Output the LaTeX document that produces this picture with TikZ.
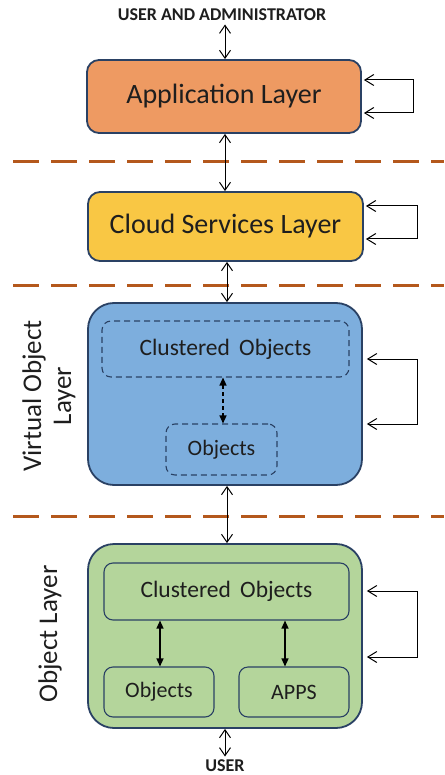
\documentclass[tikz,border=0pt]{standalone}
\usepackage{fontspec}
\setmainfont{Carlito}
\usetikzlibrary{arrows.meta}
\definecolor{orangeL}{HTML}{EE9A62}
\definecolor{yellowL}{HTML}{F9C744}
\definecolor{blueL}{HTML}{7DAEDD}
\definecolor{greenL}{HTML}{B4D59B}
\definecolor{navy}{HTML}{2A4164}
\definecolor{brownD}{HTML}{B4581C}
\definecolor{txt}{HTML}{1E1E1E}
\tikzset{
  layer/.style={draw=navy, line width=1.8pt, rounded corners=12pt, inner sep=0pt},
  biglayer/.style={draw=navy, line width=1.8pt, rounded corners=26pt, inner sep=0pt},
  inbox/.style={draw=navy, line width=1.1pt, rounded corners=9pt, inner sep=0pt},
  sep/.style={draw=brownD, line width=3pt, dash pattern=on 26pt off 12pt},
  openarr/.style={line width=1pt, {Straight Barb[length=8pt,width=11pt]}-{Straight Barb[length=8pt,width=11pt]}},
  loopline/.style={line width=1pt, {Straight Barb[length=9pt,width=11pt]}-{Straight Barb[length=9pt,width=11pt]}},
  solidarr/.style={line width=1.3pt, {Triangle[length=8pt,width=7pt]}-{Triangle[length=8pt,width=7pt]}},
  bigtxt/.style={text=txt, font=\fontsize{28}{32}\selectfont},
  midtxt/.style={text=txt, font=\fontsize{23.5}{27}\selectfont},
  smalltxt/.style={text=txt, font=\fontsize{22}{26}\selectfont},
  sidetxt/.style={text=txt, font=\fontsize{27}{30}\selectfont, align=center, rotate=90},
  captxt/.style={text=txt, font=\bfseries\fontsize{18}{21}\selectfont}
}
\begin{document}
\begin{tikzpicture}[x=1pt,y=-1pt]
\useasboundingbox (0,0) rectangle (444,775);
% texts
\node[captxt] (top) at (222,15) {USER AND ADMINISTRATOR};
\node[captxt] (bot) at (225,766) {USER};
% layers
\node[layer, fill=orangeL, minimum width=274pt, minimum height=73pt] (app) at (224,96.5) {};
\node[bigtxt] at (app.center) {Application Layer};
\node[layer, fill=yellowL, minimum width=275pt, minimum height=69pt] (cloud) at (225.5,226.5) {};
\node[bigtxt] at (cloud.center) {Cloud Services Layer};
\node[biglayer, fill=blueL, minimum width=274pt, minimum height=182pt] (virt) at (225,394) {};
\node[biglayer, fill=greenL, minimum width=274pt, minimum height=184pt] (obj) at (225,636) {};
% inner virtual
\node[inbox, dashed, dash pattern=on 6pt off 4pt, minimum width=247pt, minimum height=56pt, midtxt] (vclu) at (225.5,349) {Clustered\, Objects};
\node[inbox, dashed, dash pattern=on 6pt off 4pt, minimum width=111pt, minimum height=51pt, smalltxt] (vobj) at (221.5,449.5) {Objects};
\draw[solidarr, dashed, dash pattern=on 4pt off 3pt] (vclu.south -| 223,0) -- (vobj.north -| 223,0);
% inner object layer
\node[inbox, fill=greenL, minimum width=245pt, minimum height=57pt, midtxt] (oclu) at (226.5,591.5) {Clustered\, Objects};
\node[inbox, fill=greenL, minimum width=110pt, minimum height=50pt, smalltxt] (oobj) at (159,692) {Objects};
\node[inbox, fill=greenL, minimum width=110pt, minimum height=50pt, smalltxt] (apps) at (294,692) {APPS};
\draw[solidarr] (oclu.south -| 160,0) -- (oobj.north -| 160,0);
\draw[solidarr] (oclu.south -| 285,0) -- (apps.north -| 285,0);
% side labels
\node[sidetxt] (vlab) at (49,396) {Virtual Object\\Layer};
\node[sidetxt] (olab) at (50,634) {Object Layer};
% separators
\draw[sep] (13,161.5) -- (444,161.5);
\draw[sep] (13,285.5) -- (444,285.5);
\draw[sep] (13,516) -- (444,516);
% vertical arrows
\draw[openarr] (top.south -| 225,0) -- (app.north -| 225,0);
\draw[openarr] (app.south -| 225,0) -- (cloud.north -| 225,0);
\draw[openarr] (cloud.south -| 227,0) -- (virt.north -| 227,0);
\draw[openarr] (virt.south -| 227,0) -- (obj.north -| 227,0);
\draw[openarr] (obj.south -| 225,0) -- (bot.north -| 225,0);
% self loops
\draw[loopline] ([xshift=2pt]app.east |- 0,80) -- (413,80) -- (413,113) -- ([xshift=2pt]app.east |- 0,113);
\draw[loopline] ([xshift=2pt]cloud.east |- 0,206) -- (417,206) -- (417,239) -- ([xshift=2pt]cloud.east |- 0,239);
\draw[loopline] ([xshift=4pt]virt.east |- 0,359) -- (417,359) -- (417,424) -- ([xshift=4pt]virt.east |- 0,424);
\draw[loopline] ([xshift=4pt]obj.east |- 0,591) -- (417,591) -- (417,657) -- ([xshift=4pt]obj.east |- 0,657);
\end{tikzpicture}
\end{document}
